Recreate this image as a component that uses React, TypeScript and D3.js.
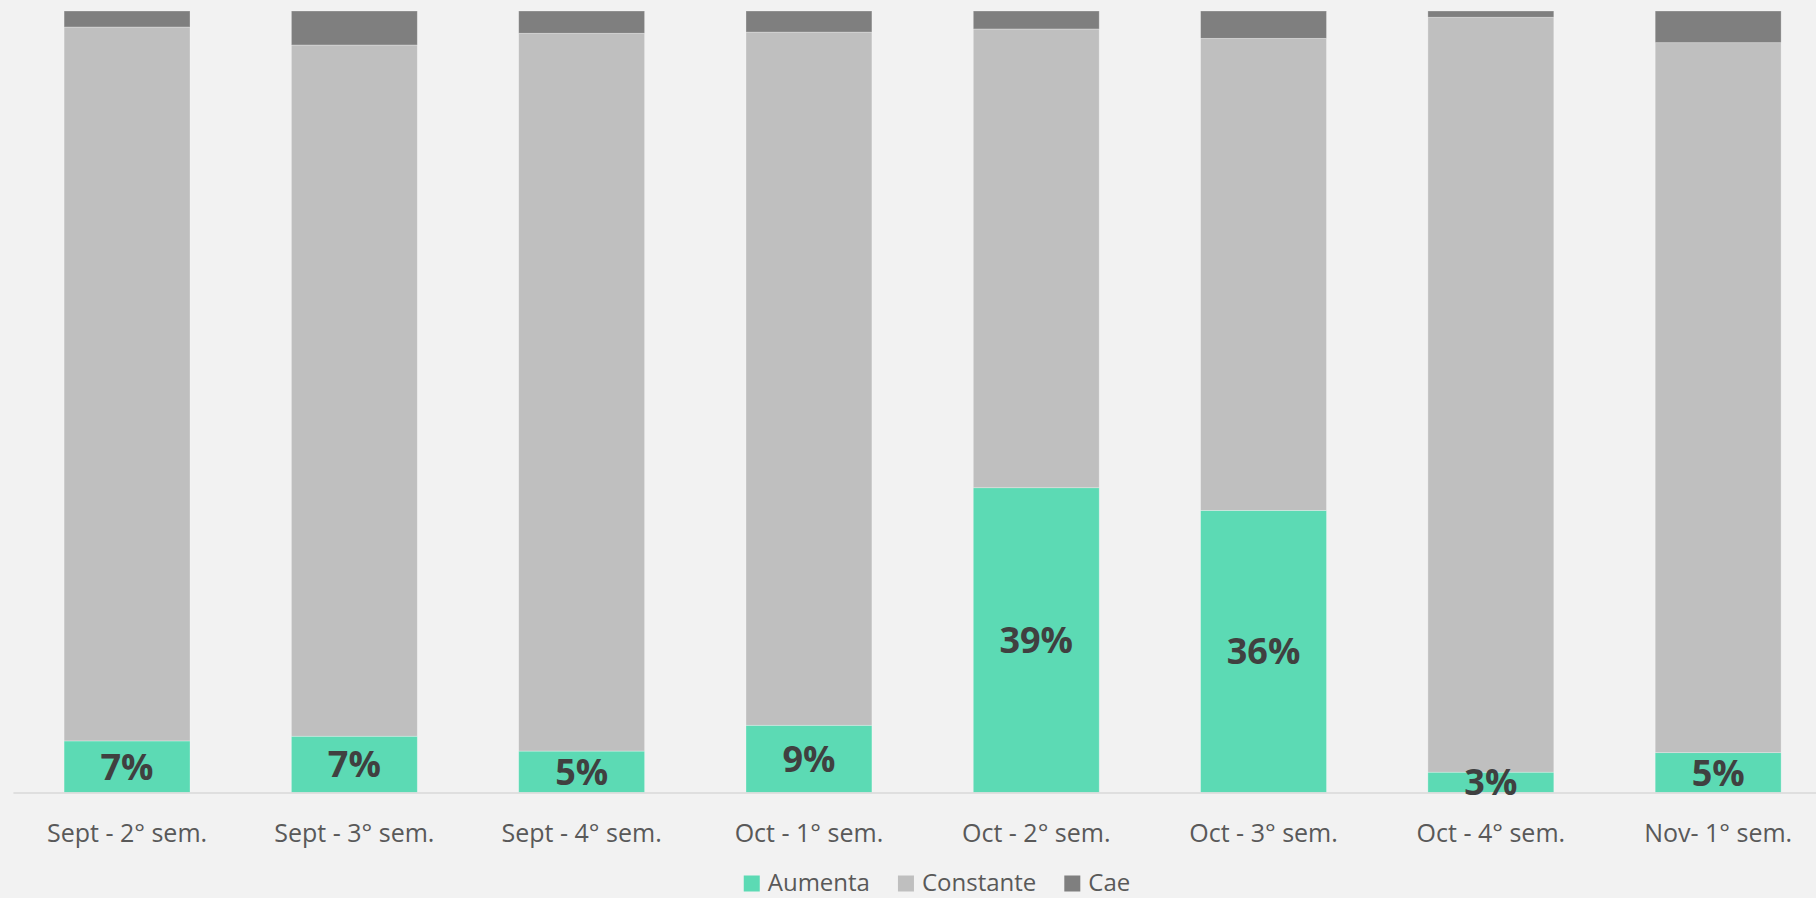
import React, { useEffect, useRef } from "react";
import * as d3 from "d3";

// semanas
const categories = [
  "Sept - 2° sem.",
  "Sept - 3° sem.",
  "Sept - 4° sem.",
  "Oct - 1° sem.",
  "Oct - 2° sem.",
  "Oct - 3° sem.",
  "Oct - 4° sem.",
  "Nov- 1° sem."
];

// % Aumenta / Cae (Constante = resto)
const aumenta = [6.6, 7.2, 5.3, 8.6, 39.0, 36.1, 2.6, 5.1];
const cae = [2.05, 4.35, 2.85, 2.7, 2.3, 3.5, 0.8, 4.05];

const seriesNames = ["Aumenta", "Constante", "Cae"];
const seriesColors = ["#5CDAB4", "#BFBFBF", "#7F7F7F"];

const W = 1816;
const H = 898;

const App: React.FC = () => {
  const svgRef = useRef<SVGSVGElement>(null);

  useEffect(() => {
    if (!svgRef.current) return;
    const svg = d3.select(svgRef.current);
    svg.selectAll("*").remove();

    const rows = categories.map((c, i) => ({
      cat: c,
      Aumenta: aumenta[i],
      Constante: 100 - aumenta[i] - cae[i],
      Cae: cae[i]
    }));

    const stack = d3.stack<any>().keys(seriesNames);
    const stacked = stack(rows);

    const x = d3
      .scaleBand()
      .domain(categories)
      .range([13.4, 1831.8])
      .paddingInner(0.446)
      .paddingOuter(0.223);

    const y = d3.scaleLinear().domain([0, 100]).range([792.5, 11]);

    svg
      .append("rect")
      .attr("width", W)
      .attr("height", H)
      .attr("fill", "#F2F2F2");

    // BARS
    stacked.forEach((layer, li) => {
      svg
        .append("g")
        .selectAll("rect")
        .data(layer)
        .enter()
        .append("rect")
        .attr("x", d => x(d.data.cat)!)
        .attr("y", d => y(d[1]))
        .attr("width", x.bandwidth())
        .attr("height", d => y(d[0]) - y(d[1]))
        .attr("fill", seriesColors[li])
        .attr("stroke", "#ffffff")
        .attr("stroke-opacity", 0.35)
        .attr("stroke-width", 0.8);
    });

    // AXIS LINE
    svg
      .append("line")
      .attr("x1", 13.4)
      .attr("x2", W)
      .attr("y1", y(0) + 0.5)
      .attr("y2", y(0) + 0.5)
      .attr("stroke", "#D9D9D9")
      .attr("stroke-width", 1.5);

    // DATA LABELS (Aumenta)
    svg
      .append("g")
      .selectAll("text")
      .data(stacked[0])
      .enter()
      .append("text")
      .attr("x", d => x(d.data.cat)! + x.bandwidth() / 2)
      .attr("y", d => (y(d[0]) + y(d[1])) / 2)
      .attr("dy", "0.36em")
      .attr("text-anchor", "middle")
      .style("font-family", "'Open Sans', sans-serif")
      .style("font-weight", "bold")
      .style("font-size", "36px")
      .attr("fill", "#404040")
      .text(d => `${Math.round(d[1] - d[0])}%`);

    // CATEGORY LABELS
    svg
      .append("g")
      .selectAll("text")
      .data(categories)
      .enter()
      .append("text")
      .attr("x", d => x(d)! + x.bandwidth() / 2)
      .attr("y", 842)
      .attr("text-anchor", "middle")
      .style("font-family", "'Open Sans', sans-serif")
      .style("font-size", "25px")
      .attr("fill", "#595959")
      .text(d => d);

    // LEGEND
    const legend = svg.append("g");
    let cx = 0;
    seriesNames.forEach((name, i) => {
      const item = legend.append("g").attr("transform", `translate(${cx},0)`);
      item
        .append("rect")
        .attr("x", 0)
        .attr("y", 875.5)
        .attr("width", 16)
        .attr("height", 16)
        .attr("fill", seriesColors[i]);
      const t = item
        .append("text")
        .attr("x", 24)
        .attr("y", 891)
        .style("font-family", "'Open Sans', sans-serif")
        .style("font-size", "24px")
        .attr("fill", "#595959")
        .text(name);
      const len = (t.node() as SVGTextElement).getComputedTextLength();
      cx += 24 + len + 28;
    });
    const total = cx - 28;
    legend.attr("transform", `translate(${937 - total / 2},0)`);
  }, []);

  return (
    <div style={{ position: "absolute", left: 0, top: 0 }}>
      <svg ref={svgRef} width={W} height={H} style={{ display: "block" }} />
    </div>
  );
};

export default App;
